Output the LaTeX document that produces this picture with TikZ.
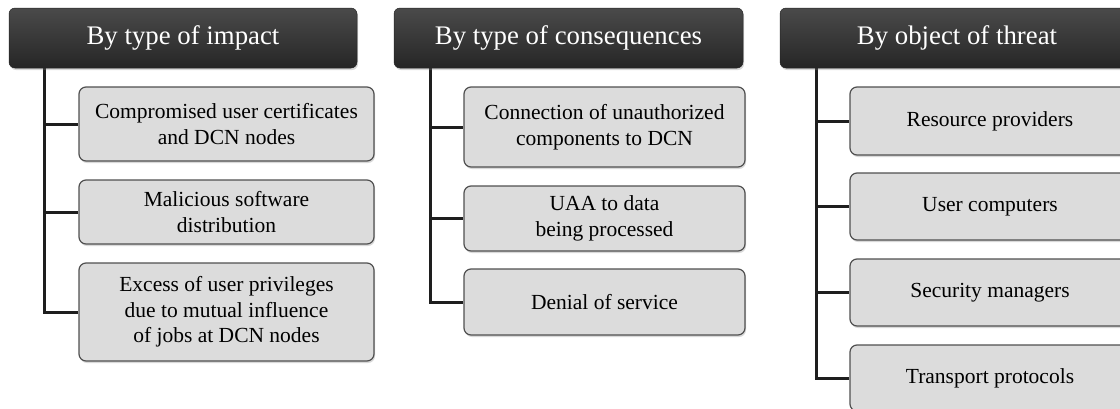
\documentclass[tikz,border=0pt]{standalone}
\usepackage{fontspec}
\setmainfont{Liberation Serif}
\usetikzlibrary{shadows,backgrounds}
\definecolor{hdtop}{HTML}{4A4A4A}
\definecolor{hdbot}{HTML}{262626}
\definecolor{boxfill}{HTML}{DCDCDC}
\definecolor{boxline}{HTML}{505050}
\definecolor{connc}{HTML}{1E1E1E}
\tikzset{
  header/.style={rounded corners=6pt, top color=hdtop, bottom color=hdbot, draw=hdbot,
    line width=0.5pt, text=white, font=\fontsize{26.8}{30}\selectfont, inner sep=0pt,
    drop shadow={shadow xshift=1pt, shadow yshift=-2pt, opacity=0.3}},
  item/.style={rounded corners=7pt, fill=boxfill, draw=boxline, line width=1.2pt,
    align=center, font=\fontsize{21.5}{25.5}\selectfont, inner sep=0pt,
    drop shadow={shadow xshift=1pt, shadow yshift=-2pt, opacity=0.3}},
  connector/.style={draw=connc, line width=3pt}
}
\begin{document}
\begin{tikzpicture}[x=1pt,y=-1pt]
\useasboundingbox (0,0) rectangle (1120,408);
\clip (0,0) rectangle (1120,408);
% column 1
\node[header, minimum width=348pt, minimum height=60pt] (h1) at (183,38) {By type of impact};
\node[item, minimum width=295pt, minimum height=74pt] (a1) at (226.5,124) {Compromised user certificates\\and DCN nodes};
\node[item, minimum width=295pt, minimum height=64pt] (a2) at (226.5,212) {Malicious software\\distribution};
\node[item, minimum width=295pt, minimum height=98pt] (a3) at (226.5,312) {Excess of user privileges\\due to mutual influence\\of jobs at DCN nodes};
% column 2
\node[header, minimum width=349pt, minimum height=60pt] (h2) at (568.5,38) {By type of consequences};
\node[item, minimum width=281pt, minimum height=80pt] (b1) at (604.5,127) {Connection of unauthorized\\components to DCN};
\node[item, minimum width=281pt, minimum height=65pt] (b2) at (604.5,218.5) {UAA to data\\being processed};
\node[item, minimum width=281pt, minimum height=66pt] (b3) at (604.5,302) {Denial of service};
% column 3
\node[header, minimum width=354pt, minimum height=60pt] (h3) at (957,38) {By object of threat};
\node[item, minimum width=280pt, minimum height=68pt] (c1) at (990,121) {Resource providers};
\node[item, minimum width=280pt, minimum height=67pt] (c2) at (990,206.5) {User computers};
\node[item, minimum width=280pt, minimum height=67pt] (c3) at (990,292.5) {Security managers};
\node[item, minimum width=280pt, minimum height=66pt] (c4) at (990,378) {Transport protocols};
% connectors
\coordinate (t1) at (44,67);
\coordinate (t2) at (430,67);
\coordinate (t3) at (816,67);
\begin{pgfonlayer}{background}
\draw[connector] (t1) |- (a1.west);
\draw[connector] (t1) |- (a2.west);
\draw[connector] (t1) |- (a3.west);
\draw[connector] (t2) |- (b1.west);
\draw[connector] (t2) |- (b2.west);
\draw[connector] (t2) |- (b3.west);
\draw[connector] (t3) |- (c1.west);
\draw[connector] (t3) |- (c2.west);
\draw[connector] (t3) |- (c3.west);
\draw[connector] (t3) |- (c4.west);
\end{pgfonlayer}
\end{tikzpicture}
\end{document}
